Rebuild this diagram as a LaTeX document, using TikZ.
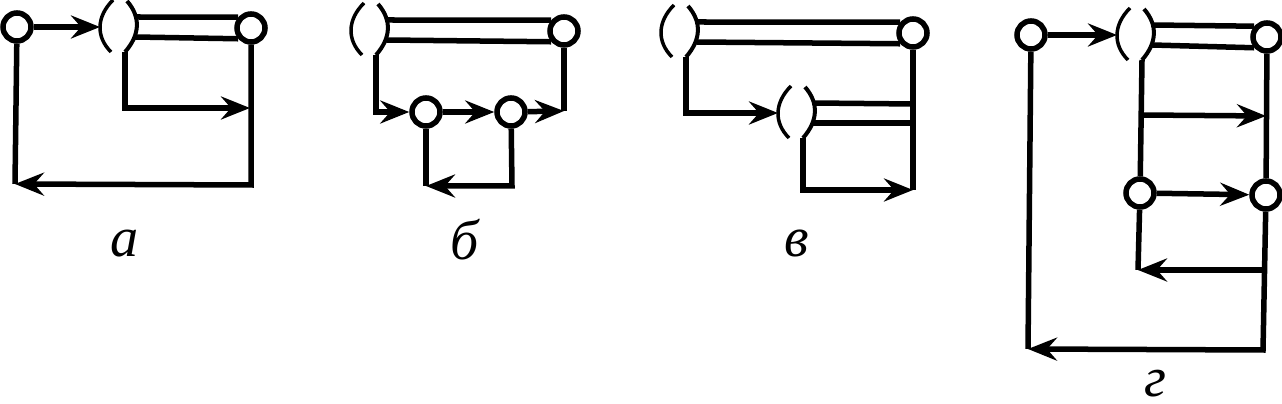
\documentclass[tikz,border=0pt]{standalone}
\usepackage{fontspec}
\setmainfont{Liberation Serif}
\usetikzlibrary{positioning,arrows.meta}
\tikzset{
  lens/.pic={
    \draw[line width=0.035cm] (-5,-27) .. controls (-22,-10) and (-22,10) .. (-7,25);
    \draw[line width=0.04cm] (9,-26) .. controls (23,-10) and (22,8) .. (7,25);
    \coordinate (-in) at (-18,0); \coordinate (-top) at (17,-10);
    \coordinate (-bot) at (17,10); \coordinate (-drop) at (7,25);
  }
}
\begin{document}
\begin{tikzpicture}[x=0.01cm,y=-0.01cm,line width=0.055cm,
  junc/.style={circle,draw,fill=white,inner sep=0pt,minimum size=0.28cm},
  flow/.style={-{Stealth[length=0.29cm,width=0.23cm,inset=0.1cm]}},
  tag/.style={inner sep=0pt,font=\fontsize{16}{16}\selectfont\itshape}]
  \useasboundingbox (0,0) rectangle (1282,404);
  \node[junc] (a1) at (17,27) {}; \node[junc] (a2) at (251,28) {};
  \pic (la) at (118,27) {lens};
  \coordinate (a3) at (250,108); \coordinate (a4) at (251,185); \coordinate (a5) at (15,184);
  \draw[flow] (a1)--(la-in);
  \draw (la-top)--(a2.140); \draw (la-bot)--(a2.220);
  \draw[flow] (la-drop)|-(a3);
  \draw[flow] (a2)--(a4)--(a5); \draw (a5)--(a1);
  \node[tag] (ta) at (125,244) {а};

  \pic (lb) at (369,30) {lens};
  \node[junc] (b1) at (564,31) {}; \node[junc] (b2) at (426,112) {}; \node[junc] (b3) at (511,112) {};
  \coordinate (b4) at (564,111); \coordinate (b5) at (512,186); \coordinate (b6) at (426,186);
  \draw (lb-top)--(b1.140); \draw (lb-bot)--(b1.220);
  \draw[flow] (lb-drop)|-(b2);
  \draw[flow] (b2)--(b3); \draw[flow] (b3)--(b4); \draw (b4)--(b1);
  \draw[flow] (b3)--(b5)--(b6); \draw (b6)--(b2);
  \node[tag] (tb) at (465,240) {б};

  \pic (lc) at (679,32) {lens}; \pic (ld) at (796,113) {lens};
  \node[junc] (c1) at (913,33) {};
  \coordinate (c2) at (913,104); \coordinate (c3) at (913,123); \coordinate (c4) at (913,190);
  \draw (lc-top)--(c1.140); \draw (lc-bot)--(c1.220);
  \draw[flow] (lc-drop)|-(ld-in);
  \draw (ld-top)--(c2); \draw (ld-bot)--(c3);
  \draw (c1)--(c4); \draw[flow] (ld-drop)|-(c4);
  \node[tag] (tc) at (797,243) {в};

  \node[junc] (d1) at (1031,35) {}; \pic (le) at (1135,35) {lens};
  \node[junc] (d2) at (1267,37) {}; \node[junc] (d3) at (1140,193) {}; \node[junc] (d4) at (1266,195) {};
  \coordinate (d5) at (1141,115); \coordinate (d6) at (1266,116);
  \coordinate (d7) at (1264,270); \coordinate (d8) at (1138,270);
  \coordinate (d9) at (1263,350); \coordinate (d10) at (1028,349);
  \draw[flow] (d1)--(le-in);
  \draw (le-top)--(d2.140); \draw (le-bot)--(d2.220);
  \draw (le-drop)--(d3); \draw[flow] (d5)--(d6); \draw (d2)--(d4);
  \draw[flow] (d3)--(d4);
  \draw (d3)--(d8); \draw[flow] (d7)--(d8);
  \draw[flow] (d4)--(d9)--(d10); \draw (d10)--(d1);
  \node[tag] (td) at (1155,384) {г};
\end{tikzpicture}
\end{document}
